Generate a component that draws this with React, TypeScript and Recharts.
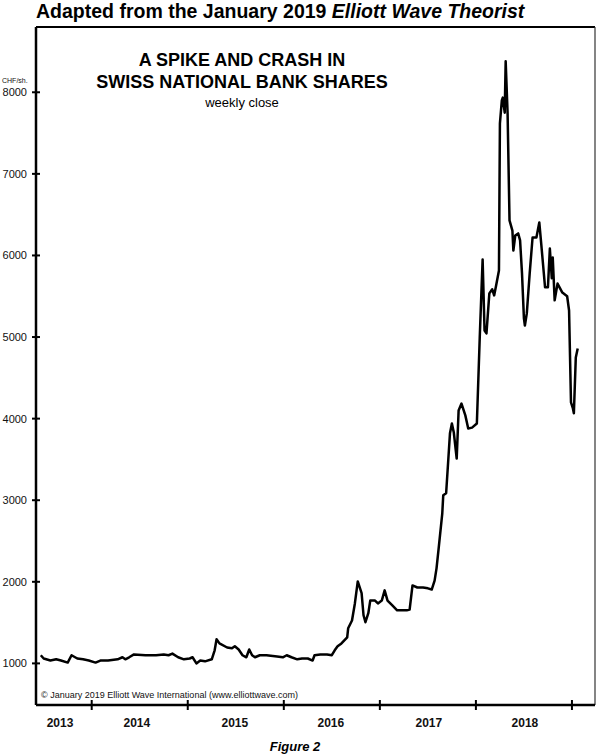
import { Line, LineChart, ReferenceLine, XAxis, YAxis } from 'recharts'

// week positions as fractional years, and the weekly close in CHF per share
const weekTimes = [
  2013.47, 2013.5, 2013.57, 2013.63, 2013.68, 2013.75, 2013.79, 2013.85, 2013.91, 2013.97,
  2014.04, 2014.09, 2014.17, 2014.27, 2014.32, 2014.35, 2014.39, 2014.44, 2014.56, 2014.67,
  2014.75, 2014.8, 2014.84, 2014.9, 2014.96, 2015.02, 2015.05, 2015.09, 2015.13, 2015.18,
  2015.25, 2015.28, 2015.3, 2015.33, 2015.41, 2015.46, 2015.49, 2015.53, 2015.57, 2015.61,
  2015.64, 2015.67, 2015.7, 2015.75, 2015.82, 2015.93, 2015.99, 2016.03, 2016.08, 2016.14,
  2016.19, 2016.25, 2016.3, 2016.32, 2016.38, 2016.45, 2016.5, 2016.53, 2016.56, 2016.6,
  2016.66, 2016.67, 2016.71, 2016.74, 2016.77, 2016.81, 2016.83, 2016.85, 2016.88, 2016.9,
  2016.95, 2016.98, 2017.02, 2017.05, 2017.08, 2017.13, 2017.18, 2017.23, 2017.28, 2017.31,
  2017.34, 2017.39, 2017.45, 2017.5, 2017.54, 2017.57, 2017.59, 2017.61, 2017.65, 2017.66,
  2017.69, 2017.71, 2017.73, 2017.75, 2017.77, 2017.8, 2017.82, 2017.85, 2017.89, 2017.92,
  2017.96, 2018.01, 2018.04, 2018.07, 2018.09, 2018.11, 2018.14, 2018.17, 2018.19, 2018.21,
  2018.24, 2018.25, 2018.27, 2018.28, 2018.3, 2018.31, 2018.33, 2018.35, 2018.38, 2018.39,
  2018.41, 2018.44, 2018.46, 2018.48, 2018.5, 2018.51, 2018.53, 2018.56, 2018.59, 2018.63,
  2018.66, 2018.68, 2018.72, 2018.75, 2018.77, 2018.79, 2018.8, 2018.82, 2018.85, 2018.9,
  2018.95, 2018.97, 2018.99, 2019.01, 2019.02, 2019.04, 2019.06,
]

const closes = [
  1100, 1060, 1035, 1050, 1035, 1010, 1100, 1060, 1050, 1035,
  1010, 1035, 1035, 1050, 1075, 1050, 1075, 1110, 1100, 1100,
  1110, 1100, 1120, 1075, 1050, 1060, 1075, 1000, 1035, 1025,
  1050, 1160, 1295, 1245, 1195, 1185, 1210, 1170, 1100, 1075,
  1170, 1100, 1075, 1100, 1100, 1085, 1075, 1100, 1075, 1050,
  1060, 1060, 1035, 1100, 1110, 1110, 1100, 1160, 1210, 1245,
  1320, 1430, 1525, 1735, 2005, 1860, 1590, 1505, 1615, 1770,
  1770, 1735, 1770, 1895, 1770, 1710, 1650, 1650, 1650, 1660,
  1955, 1930, 1930, 1920, 1905, 2015, 2165, 2385, 2840, 3060,
  3085, 3450, 3820, 3940, 3830, 3510, 4100, 4185, 4040, 3880,
  3890, 3940, 4995, 5950, 5080, 5045, 5535, 5585, 5510, 5630,
  5815, 7620, 7900, 7935, 7750, 8380, 7740, 6430, 6305, 6060,
  6245, 6270, 6185, 5780, 5230, 5140, 5290, 5780, 6220, 6220,
  6405, 6145, 5610, 5610, 6085, 5720, 5975, 5450, 5655, 5545,
  5500, 5325, 4200, 4125, 4065, 4750, 4860,
]

const yearTicks = [2014, 2015, 2016, 2017, 2018, 2019]
const yearLabels = ['2013', '2014', '2015', '2016', '2017', '2018']
const yearLabelAt = [2013.67, 2014.47, 2015.49, 2016.49, 2017.51, 2018.51]
const priceTicks = [1000, 2000, 3000, 4000, 5000, 6000, 7000, 8000]

const X_DOMAIN: [number, number] = [2013.42, 2019.24]
const Y_DOMAIN: [number, number] = [490, 8800]
const FONT = 'Arial, "Liberation Sans", Helvetica, sans-serif'

const data = weekTimes.map((t, i) => ({ t, close: closes[i] }))

function PriceTick({ x, y, payload }: any) {
  return (
    <g>
      <line x1={x - 4} x2={x + 4} y1={y} y2={y} stroke="#000" strokeWidth={2} />
      <text x={x - 9} y={y} dy={4} textAnchor="end" fontSize={11} fontFamily={FONT} fill="#111">
        {payload.value}
      </text>
    </g>
  )
}

function YearTick({ x, y, payload }: any) {
  const i = yearLabelAt.indexOf(payload.value)
  if (i < 0) {
    return <line x1={x} x2={x} y1={y - 5} y2={y + 5} stroke="#000" strokeWidth={2} />
  }
  return (
    <text x={x} y={y + 22} textAnchor="middle" fontSize={12} fontWeight="bold" fontFamily={FONT} fill="#111">
      {yearLabels[i]}
    </text>
  )
}

export default function App() {
  const xTicks = [...yearTicks, ...yearLabelAt].sort((a, b) => a - b)

  return (
    <div style={{ position: 'absolute', left: 0, top: 0, width: 600, height: 756, background: '#fff' }}>
      <LineChart width={600} height={756} data={data} margin={{ top: 27, right: 5, bottom: 21, left: 0 }}>
        <XAxis
          dataKey="t"
          type="number"
          domain={X_DOMAIN}
          allowDataOverflow
          ticks={xTicks}
          interval={0}
          tickSize={0}
          tickMargin={0}
          height={30}
          axisLine={{ stroke: '#000', strokeWidth: 2.5 }}
          tickLine={false}
          tick={<YearTick />}
        />
        <YAxis
          type="number"
          domain={Y_DOMAIN}
          allowDataOverflow
          ticks={priceTicks}
          interval={0}
          tickSize={0}
          tickMargin={0}
          width={36}
          axisLine={{ stroke: '#000', strokeWidth: 2.5 }}
          tickLine={false}
          tick={<PriceTick />}
        />
        <ReferenceLine y={Y_DOMAIN[1]} stroke="#000" strokeWidth={2} />
        <ReferenceLine x={X_DOMAIN[1]} stroke="#333" strokeWidth={1.2} />
        <Line
          type="linear"
          dataKey="close"
          stroke="#000"
          strokeWidth={2.5}
          strokeLinejoin="round"
          dot={false}
          isAnimationActive={false}
        />
      </LineChart>

      <svg
        width={600}
        height={756}
        style={{ position: 'absolute', left: 0, top: 0, pointerEvents: 'none' }}
        fontFamily={FONT}
      >
        <text x={36} y={18} fontSize={19.5} fontWeight="bold" fill="#000">
          Adapted from the January 2019 <tspan fontStyle="italic">Elliott Wave Theorist</tspan>
        </text>
        <text x={242} y={66} fontSize={18} fontWeight="bold" textAnchor="middle" fill="#000">
          A SPIKE AND CRASH IN
        </text>
        <text x={242} y={88} fontSize={18} fontWeight="bold" textAnchor="middle" fill="#000">
          SWISS NATIONAL BANK SHARES
        </text>
        <text x={242} y={107} fontSize={13} textAnchor="middle" fill="#000">
          weekly close
        </text>
        <text x={2} y={83} fontSize={7} fill="#111">
          CHF/sh.
        </text>
        <text x={41} y={698} fontSize={9} fill="#111">
          © January 2019 Elliott Wave International (www.elliottwave.com)
        </text>
        <text x={295} y={751} fontSize={13} fontWeight="bold" fontStyle="italic" textAnchor="middle" fill="#000">
          Figure 2
        </text>
      </svg>
    </div>
  )
}
